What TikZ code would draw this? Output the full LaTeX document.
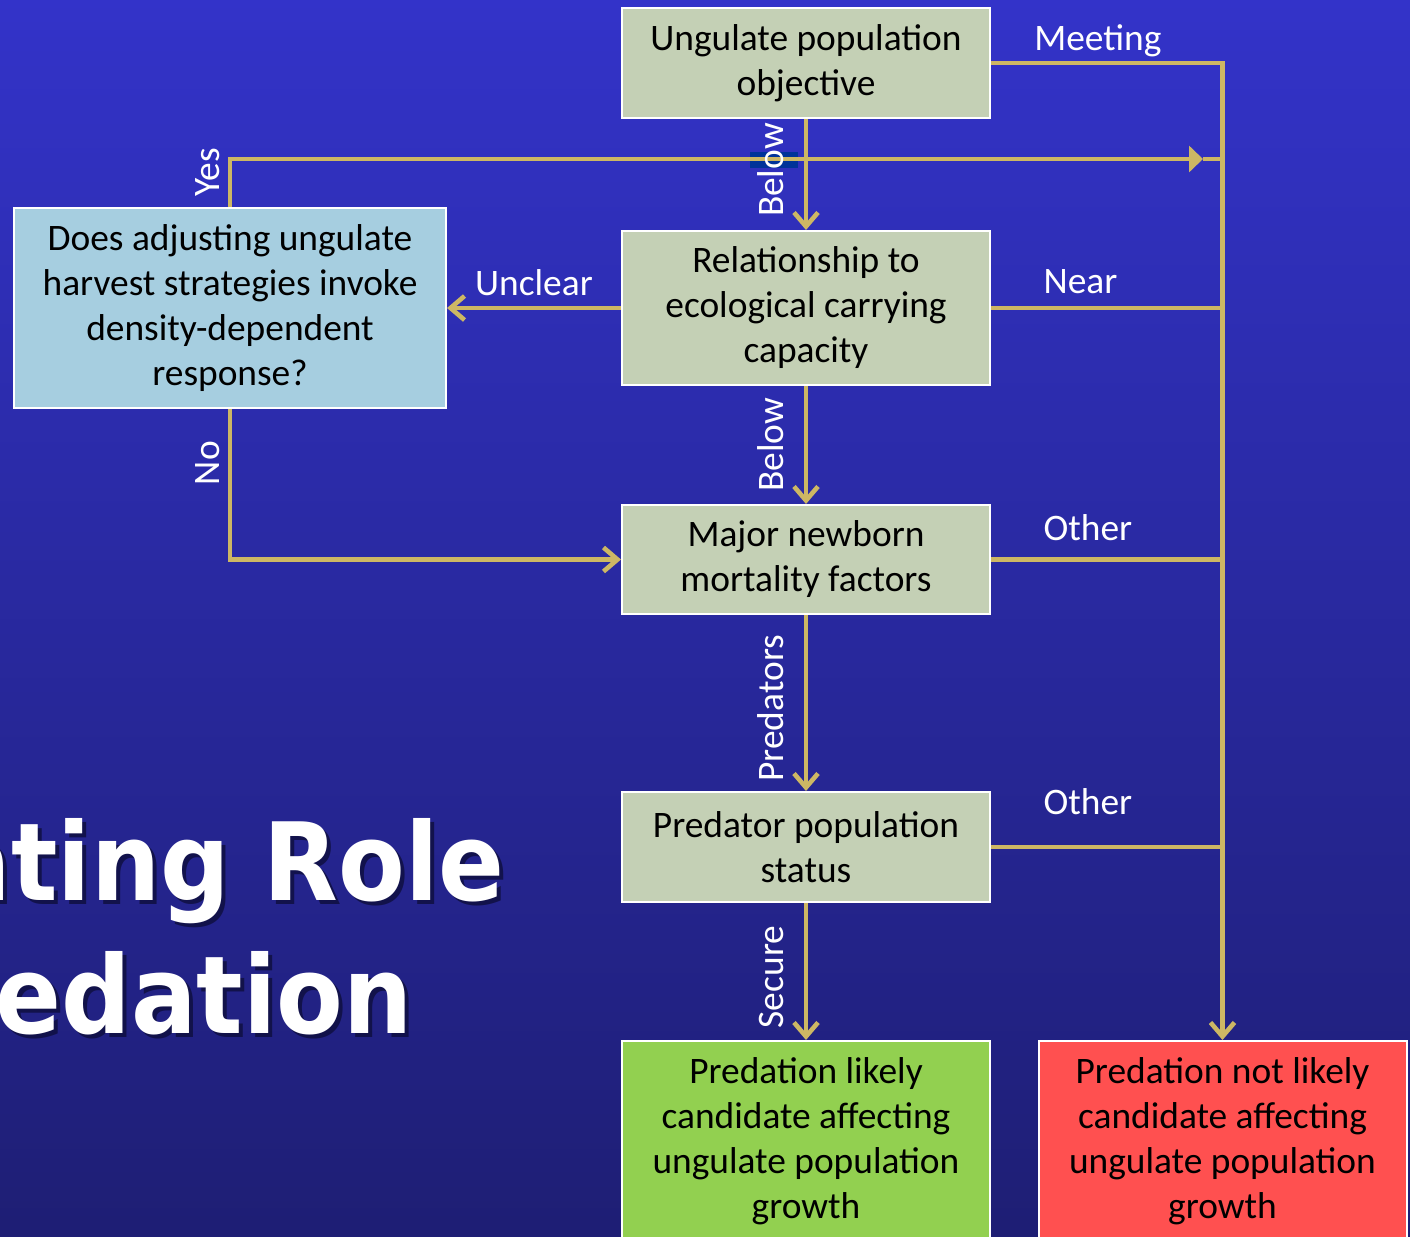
\documentclass[tikz,border=0pt]{standalone}
\usepackage{fontspec}
\setmainfont{Carlito}
\newfontfamily\headfont{DejaVu Sans Condensed}
\usetikzlibrary{arrows.meta}
\definecolor{slidetop}{RGB}{51,51,201}
\definecolor{slidebottom}{RGB}{30,30,116}
\definecolor{flowgold}{RGB}{205,183,100}
\definecolor{stepsage}{RGB}{196,208,181}
\definecolor{askblue}{RGB}{166,206,224}
\definecolor{likelygreen}{RGB}{146,208,80}
\definecolor{unlikelyred}{RGB}{255,80,80}
\definecolor{titleshade}{RGB}{14,14,60}
\definecolor{markblue}{RGB}{0,51,153}

\begin{document}
\begin{tikzpicture}[
  x=0.5pt, y=-0.5pt,
  box/.style={draw=white,line width=1pt,minimum width=184pt,align=center,
    text=black,inner sep=2pt,font=\fontsize{18.7}{22.5}\selectfont},
  flow/.style={draw=flowgold,line width=2.3pt},
  open/.style={-{Straight Barb[length=7pt,width=12pt]}},
  lbl/.style={text=white,inner sep=2pt,font=\fontsize{18.7}{22}\selectfont},
  tag/.style={lbl,anchor=south west},
  vlbl/.style={lbl,rotate=90,anchor=south,inner sep=0pt,outer sep=11pt},
  title/.style={anchor=base east,inner sep=0pt,font=\headfont\bfseries\fontsize{54}{60}\selectfont}
]
  % slide background
  \useasboundingbox (0,0) rectangle (1410,1237);
  \clip (0,0) rectangle (1410,1237);
  \fill[top color=slidetop,bottom color=slidebottom] (0,0) rectangle (1410,1237);

  % title, partly off the slide
  \node[title,text=titleshade,opacity=0.8] at (509,904) {ating Role};
  \node[title,text=titleshade,opacity=0.8] at (417,1037) {redation};
  \node[title,text=white] (head1) at (505,900) {ating Role};
  \node[title,text=white] (head2) at (413,1033) {redation};

  % decision steps
  \node[box,fill=stepsage,minimum height=55pt] (obj) at (806,63) {Ungulate population\\objective};
  \node[box,fill=stepsage,minimum height=77pt] (rel) at (806,308) {Relationship to\\ecological carrying\\capacity};
  \node[box,fill=stepsage,minimum height=54.5pt] (mort) at (806,559.5) {Major newborn\\mortality factors};
  \node[box,fill=stepsage,minimum height=55pt] (pred) at (806,847) {Predator population\\status};
  \node[box,fill=askblue,minimum width=216pt,minimum height=100pt] (ask) at (230,308)
    {Does adjusting ungulate\\harvest strategies invoke\\density-dependent\\response?};

  % outcomes
  \node[box,fill=likelygreen,minimum height=100pt] (likely) at (806,1141)
    {Predation likely\\candidate affecting\\ungulate population\\growth};
  \node[box,fill=unlikelyred,minimum height=100pt] (unlikely) at (1222.5,1141)
    {Predation not likely\\candidate affecting\\ungulate population\\growth};

  \coordinate (yestip) at (1203,159);
  \fill[markblue] (750,152) rectangle (798,168);

  % yes / no loop through the harvest question
  \draw[flow,-{Triangle[length=7pt,width=13pt]}] (ask.north) |- node[vlbl,outer sep=5pt,pos=0.36] {Yes} (yestip);
  \draw[flow] (yestip) -- (yestip -| unlikely.north);
  \draw[flow,open] (rel.west) -- node[lbl,above,yshift=3pt] {Unclear} (ask.east);
  \draw[flow,open] (ask.south) |- node[vlbl,outer sep=5pt,pos=0.18] {No} (mort.west);

  % main column
  \draw[flow,open] (obj) -- node[vlbl,pos=0.46] {Below} (rel);
  \draw[flow,open] (rel) -- node[vlbl] {Below} (mort);
  \draw[flow,open] (mort) -- node[vlbl,pos=0.53] {Predators} (pred);
  \draw[flow,open] (pred) -- node[vlbl,pos=0.54] {Secure} (likely);

  % everything else drops to the right
  \draw[flow,open] (obj.east) -| node[tag,pos=0.08] {Meeting} (unlikely.north);
  \draw[flow] (rel.east) -- node[tag,pos=0.2,yshift=4pt] {Near} (rel.east -| unlikely.north);
  \draw[flow] (mort.east) -- node[tag,pos=0.2,yshift=6pt] {Other} (mort.east -| unlikely.north);
  \draw[flow] (pred.east) -- node[tag,pos=0.2,yshift=13pt] {Other} (pred.east -| unlikely.north);
\end{tikzpicture}
\end{document}
